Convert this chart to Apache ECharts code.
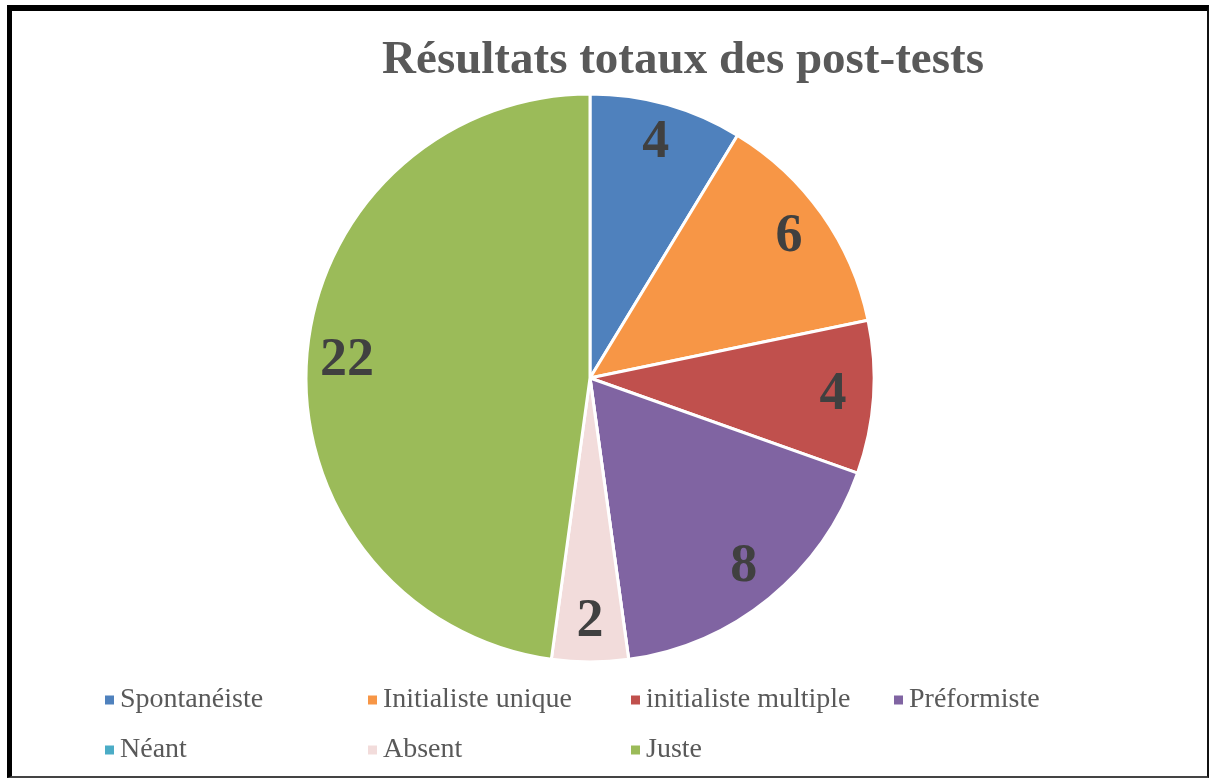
<!DOCTYPE html>
<html>
<head>
<meta charset="utf-8">
<script src="https://cdn.jsdelivr.net/npm/echarts@6/dist/echarts.min.js"></script>
<style>
  html, body { margin: 0; padding: 0; background: #fff; }
  #chart { position: absolute; left: 0; top: 0; width: 1212px; height: 780px; }
  #frame {
    position: absolute; left: 7px; top: 5px; width: 1202px; height: 773px;
    border-left: 5px solid #000; border-top: 6px solid #000;
    border-right: 2px solid #111; border-bottom: 2px solid #444;
    box-sizing: border-box; pointer-events: none;
  }
</style>
</head>
<body>
<div id="chart"></div>
<div id="frame"></div>
<script>
// categories and values (post-test totals)
var categories = ['Spontanéiste', 'Initialiste unique', 'initialiste multiple', 'Préformiste', 'Néant', 'Absent', 'Juste'];
var counts = [4, 6, 4, 8, 0, 2, 22];
var colors = ['#4F81BD', '#F79646', '#C0504D', '#8064A2', '#4BACC6', '#F2DCDB', '#9BBB59'];

var cx = 590, cy = 378; // pie centre, px
var labelFactor = 1.68; // push labels from r/2 out to ~0.84r

var chart = echarts.init(document.getElementById('chart'));

var pieData = categories.map(function (name, i) {
  return { name: name, value: counts[i], itemStyle: { color: colors[i] } };
});

chart.setOption({
  animation: false,
  title: {
    text: 'Résultats totaux des post-tests',
    left: 678,
    textAlign: 'center',
    top: 32,
    textStyle: {
      fontFamily: 'Liberation Serif',
      fontWeight: 'bold',
      fontSize: 47,
      color: '#595959'
    }
  },
  legend: {
    data: categories,
    left: 98,
    top: 678,
    width: 1060,
    icon: 'rect',
    itemWidth: 11,
    itemHeight: 11,
    itemGap: 16,
    textStyle: {
      fontFamily: 'Liberation Serif',
      fontSize: 28,
      color: '#595959',
      width: 230,
      lineHeight: 34,
      overflow: 'truncate'
    }
  },
  series: [{
    type: 'pie',
    center: [cx, cy],
    radius: 284,
    startAngle: 90,
    clockwise: true,
    data: pieData,
    itemStyle: { borderColor: '#fff', borderWidth: 3 },
    label: {
      show: true,
      position: 'inside',
      formatter: function (p) { return p.value ? String(p.value) : ''; },
      fontFamily: 'Liberation Serif',
      fontWeight: 'bold',
      fontSize: 54,
      color: '#404040'
    },
    labelLine: { show: false },
    labelLayout: function (params) {
      var r = params.labelRect;
      var lx = r.x + r.width / 2, ly = r.y + r.height / 2;
      return {
        dx: (lx - cx) * (labelFactor - 1),
        dy: (ly - cy) * (labelFactor - 1)
      };
    }
  }]
});
</script>
</body>
</html>
